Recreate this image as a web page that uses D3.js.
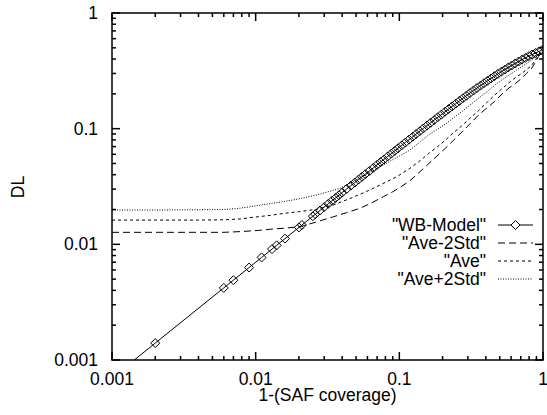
<!DOCTYPE html>
<html>
<head>
<meta charset="utf-8">
<script src="https://cdn.jsdelivr.net/npm/d3@7"></script>
<style>
  body { margin: 0; background: #fff; }
  text { font-family: "Liberation Sans", Arial, Helvetica, sans-serif; font-size: 17.5px; fill: #000; }
</style>
</head>
<body>
<div id="chart"></div>
<script>
const width = 547, height = 415;
const margin = { top: 13, right: 4, bottom: 55, left: 112 };

// WB-Model (points with markers)
const wbX = [0.001, 0.002, 0.006, 0.007, 0.009, 0.011, 0.013, 0.014, 0.016, 0.020, 0.021, 0.025, 0.026, 0.028, 0.030,
  0.032, 0.034, 0.036, 0.038, 0.040, 0.043, 0.046, 0.049, 0.052, 0.055, 0.058, 0.062, 0.066, 0.070, 0.074, 0.078,
  0.083, 0.088, 0.093, 0.098, 0.104, 0.110, 0.117, 0.124, 0.131, 0.139, 0.147, 0.156, 0.165, 0.175, 0.185, 0.196,
  0.208, 0.220, 0.233, 0.247, 0.262, 0.277, 0.293, 0.310, 0.328, 0.347, 0.367, 0.388, 0.410, 0.434, 0.459, 0.485,
  0.513, 0.542, 0.573, 0.605, 0.640, 0.676, 0.714, 0.754, 0.796, 0.840, 0.887, 0.936, 0.980];
const wbY = [0.0007, 0.0014, 0.0042, 0.0049, 0.0063, 0.0077, 0.0091, 0.0098, 0.0112, 0.0140, 0.0147, 0.0175, 0.0182, 0.0196, 0.0210,
  0.0224, 0.0238, 0.0252, 0.0266, 0.0280, 0.0301, 0.0322, 0.0342, 0.0363, 0.0384, 0.0404, 0.0432, 0.0459, 0.0487, 0.0514, 0.0541,
  0.0575, 0.0609, 0.0643, 0.0677, 0.0718, 0.0758, 0.0805, 0.0852, 0.0899, 0.0952, 0.1005, 0.1065, 0.1124, 0.1188, 0.1253, 0.1323,
  0.1400, 0.1476, 0.1558, 0.1646, 0.1739, 0.1832, 0.1929, 0.2030, 0.2136, 0.2245, 0.2356, 0.2472, 0.2589, 0.2716, 0.2843, 0.2973,
  0.3109, 0.3241, 0.3380, 0.3515, 0.3661, 0.3806, 0.3948, 0.4094, 0.4235, 0.4376, 0.4515, 0.4652, 0.4763];

// Ave-2Std
const lowX = [0.001, 0.002, 0.004, 0.006, 0.008, 0.0105, 0.0126, 0.016, 0.0203, 0.026, 0.0347, 0.043, 0.0532, 0.064, 0.0773,
  0.09, 0.1009, 0.1185, 0.135, 0.155, 0.18, 0.21, 0.24, 0.2715, 0.31, 0.36, 0.41, 0.46, 0.52, 0.58, 0.64, 0.71, 0.77, 0.83, 0.88, 0.93, 0.98];
const lowY = [0.0127, 0.0127, 0.0127, 0.0127, 0.0129, 0.0132, 0.0135, 0.0138, 0.0142, 0.0155, 0.0173, 0.0188, 0.0205, 0.0228, 0.0258,
  0.0285, 0.0310, 0.0355, 0.0410, 0.0480, 0.0570, 0.0680, 0.0800, 0.0930, 0.1100, 0.1330, 0.1520, 0.1720, 0.2000, 0.2250, 0.2450, 0.2720, 0.3020, 0.3300, 0.3700, 0.4200, 0.4600];

// Ave
const aveX = [0.001, 0.002, 0.004, 0.006, 0.008, 0.0091, 0.0126, 0.0156, 0.0203, 0.0266, 0.0347, 0.045, 0.056, 0.0695, 0.0825,
  0.0958, 0.1185, 0.14, 0.16, 0.185, 0.21, 0.24, 0.27, 0.31, 0.36, 0.41, 0.46, 0.52, 0.58, 0.64, 0.71, 0.77, 0.83, 0.88, 0.93, 0.98];
const aveY = [0.0162, 0.0162, 0.0162, 0.0163, 0.0166, 0.0170, 0.0178, 0.0185, 0.0192, 0.0201, 0.0219, 0.0248, 0.0278, 0.0315, 0.0350,
  0.0384, 0.0454, 0.0530, 0.0610, 0.0700, 0.0800, 0.0930, 0.1050, 0.1230, 0.1450, 0.1700, 0.1950, 0.2220, 0.2500, 0.2750, 0.3000, 0.3250, 0.3500, 0.3900, 0.4300, 0.4650];

// Ave+2Std
const highX = [0.001, 0.002, 0.004, 0.006, 0.0075, 0.0091, 0.0126, 0.0156, 0.0203, 0.0266, 0.0320, 0.0386, 0.046, 0.055, 0.065,
  0.0773, 0.09, 0.1, 0.1185, 0.14, 0.159, 0.185, 0.21, 0.24, 0.2715, 0.31, 0.36, 0.41, 0.462, 0.52, 0.58, 0.64, 0.709, 0.77, 0.83, 0.88, 0.93, 0.98];
const highY = [0.0198, 0.0198, 0.0199, 0.0200, 0.0204, 0.0211, 0.0225, 0.0234, 0.0248, 0.0267, 0.0285, 0.0305, 0.0340, 0.0385, 0.0430,
  0.0484, 0.0540, 0.0580, 0.0653, 0.0770, 0.0880, 0.0990, 0.1100, 0.1250, 0.1400, 0.1600, 0.1850, 0.2100, 0.2380, 0.2650, 0.2900, 0.3150, 0.3430, 0.3650, 0.3900, 0.4150, 0.4400, 0.4700];

const majorTicks = [0.001, 0.01, 0.1, 1];
const tickLabels = ["0.001", "0.01", "0.1", "1"];
const seriesNames = ['"WB-Model"', '"Ave-2Std"', '"Ave"', '"Ave+2Std"'];

const svg = d3.select("#chart").append("svg")
    .attr("width", width)
    .attr("height", height);

const x = d3.scaleLog().domain([0.001, 1]).range([margin.left, width - margin.right]);
const y = d3.scaleLog().domain([0.001, 1]).range([height - margin.bottom, margin.top]);

const minorX = x.ticks().filter(t => !majorTicks.some(m => Math.abs(m - t) < 1e-12));
const minorY = y.ticks().filter(t => !majorTicks.some(m => Math.abs(m - t) < 1e-12));

svg.append("clipPath").attr("id", "clip")
  .append("rect")
    .attr("x", margin.left).attr("y", margin.top)
    .attr("width", width - margin.left - margin.right)
    .attr("height", height - margin.top - margin.bottom);

const plot = svg.append("g").attr("clip-path", "url(#clip)");

const zip = (xs, ys) => xs.map((v, i) => [v, ys[i]]);
const line = d3.line().x(d => x(d[0])).y(d => y(d[1]));

const curves = [
  { data: zip(lowX, lowY), dash: "7,4" },
  { data: zip(aveX, aveY), dash: "3,3" },
  { data: zip(highX, highY), dash: "1,1.5" }
];

curves.forEach(c => {
  plot.append("path")
      .datum(c.data)
      .attr("fill", "none")
      .attr("stroke", "#000")
      .attr("stroke-width", 1)
      .attr("stroke-dasharray", c.dash)
      .attr("d", line);
});

const wb = zip(wbX, wbY);
plot.append("path")
    .datum(wb)
    .attr("fill", "none")
    .attr("stroke", "#000")
    .attr("stroke-width", 1)
    .attr("d", line);

const diamond = (cx, cy, r) => `M${cx},${cy - r}L${cx + r},${cy}L${cx},${cy + r}L${cx - r},${cy}Z`;

plot.selectAll(".marker")
  .data(wb)
  .enter().append("path")
    .attr("class", "marker")
    .attr("d", d => diamond(x(d[0]), y(d[1]), 4.5))
    .attr("fill", "none")
    .attr("stroke", "#000")
    .attr("stroke-width", 1);

// axes with inward ticks on all four sides
const x0 = margin.left, x1 = width - margin.right;
const y0 = height - margin.bottom, y1 = margin.top;

function ticks(g, vals, len, horiz) {
  vals.forEach(v => {
    if (horiz) {
      g.append("line").attr("x1", x(v)).attr("x2", x(v)).attr("y1", y0).attr("y2", y0 - len);
      g.append("line").attr("x1", x(v)).attr("x2", x(v)).attr("y1", y1).attr("y2", y1 + len);
    } else {
      g.append("line").attr("y1", y(v)).attr("y2", y(v)).attr("x1", x0).attr("x2", x0 + len);
      g.append("line").attr("y1", y(v)).attr("y2", y(v)).attr("x1", x1).attr("x2", x1 - len);
    }
  });
}

const tickG = svg.append("g").attr("stroke", "#000").attr("stroke-width", 1.5);
ticks(tickG, majorTicks, 8, true);
ticks(tickG, minorX, 4, true);
ticks(tickG, majorTicks, 8, false);
ticks(tickG, minorY, 4, false);

svg.append("rect")
    .attr("x", x0).attr("y", y1)
    .attr("width", x1 - x0).attr("height", y0 - y1)
    .attr("fill", "none")
    .attr("stroke", "#000")
    .attr("stroke-width", 1.5);

svg.selectAll(".xlab")
  .data(majorTicks)
  .enter().append("text")
    .attr("x", d => x(d))
    .attr("y", 385)
    .attr("text-anchor", "middle")
    .text((d, i) => tickLabels[i]);

svg.selectAll(".ylab")
  .data(majorTicks)
  .enter().append("text")
    .attr("x", 98)
    .attr("y", d => y(d))
    .attr("dy", "0.35em")
    .attr("text-anchor", "end")
    .text((d, i) => tickLabels[i]);

svg.append("text")
    .attr("x", (x0 + x1) / 2)
    .attr("y", 401)
    .attr("text-anchor", "middle")
    .text("1-(SAF coverage)");

svg.append("text")
    .attr("transform", "translate(24,187) rotate(-90)")
    .attr("text-anchor", "middle")
    .text("DL");

// legend
const legend = svg.selectAll(".legend")
  .data(seriesNames)
  .enter().append("g")
    .attr("class", "legend")
    .attr("transform", (d, i) => `translate(0,${225 + i * 18})`);

legend.append("text")
    .attr("x", 486)
    .attr("dy", "0.35em")
    .attr("text-anchor", "end")
    .text(d => d);

const legendDash = [null, "7,4", "3,3", "1,1.5"];
legend.append("line")
    .attr("x1", 498).attr("x2", 533)
    .attr("y1", 0).attr("y2", 0)
    .attr("stroke", "#000")
    .attr("stroke-width", 1)
    .attr("stroke-dasharray", (d, i) => legendDash[i]);

legend.filter((d, i) => i === 0).append("path")
    .attr("d", diamond(515.5, 0, 4.5))
    .attr("fill", "#fff")
    .attr("stroke", "#000");
</script>
</body>
</html>
